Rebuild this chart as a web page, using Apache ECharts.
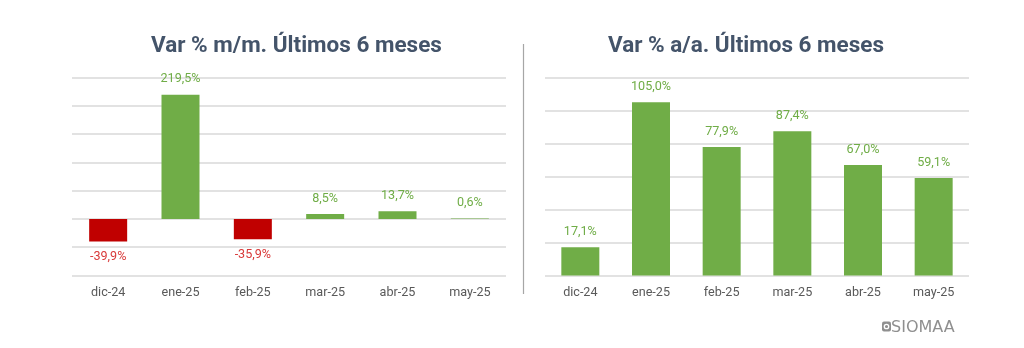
<!DOCTYPE html>
<html>
<head>
<meta charset="utf-8">
<script src="https://cdn.jsdelivr.net/npm/echarts@6/dist/echarts.min.js"></script>
<style>
html,body{margin:0;padding:0;background:#fff;}
#c{width:1024px;height:348px;}
</style>
</head>
<body>
<div id="c"></div>
<script>
const categories = ['dic-24','ene-25','feb-25','mar-25','abr-25','may-25'];
const momValues = [-39.9, 219.5, -35.9, 8.5, 13.7, 0.6];
const yoyValues = [17.1, 105.0, 77.9, 87.4, 67.0, 59.1];
const titleLeft = 'Var % m/m. Últimos 6 meses';
const titleRight = 'Var % a/a. Últimos 6 meses';

const GREEN = '#70AD47';
const RED = '#C00000';
const RED_LABEL = '#D93A3A';
const fmt = v => v.toFixed(1).replace('.', ',') + '%';
const FONT = 'Roboto';

const chart = echarts.init(document.getElementById('c'), null, {renderer: 'canvas'});

function yAxis(gi, min, max, interval) {
  return {
    type: 'value', gridIndex: gi, min: min, max: max, interval: interval,
    axisLabel: {show: false}, axisLine: {show: false}, axisTick: {show: false},
    splitLine: {lineStyle: {color: '#D9D9D9', width: 1.5}}
  };
}
function xAxis(gi) {
  return {
    type: 'category', gridIndex: gi, data: categories,
    axisLine: {show: false}, axisTick: {show: false},
    axisLabel: {color: '#595959', fontSize: 12.6, fontFamily: FONT, margin: 11}
  };
}

chart.setOption({
  animation: false,
  textStyle: {fontFamily: FONT},
  title: [
    {text: titleLeft, left: 146, top: 30, textStyle: {fontSize: 22.5, fontWeight: 'bold', color: '#44546A', fontFamily: FONT}},
    {text: titleRight, left: 603, top: 30, textStyle: {fontSize: 22.5, fontWeight: 'bold', color: '#44546A', fontFamily: FONT}}
  ],
  grid: [
    {left: 72, right: 518, top: 77.5, bottom: 72.5},
    {left: 545, right: 55, top: 77.5, bottom: 72.5}
  ],
  xAxis: [xAxis(0), xAxis(1)],
  yAxis: [yAxis(0, -100, 250, 50), yAxis(1, 0, 120, 20)],
  series: [
    {
      type: 'bar', xAxisIndex: 0, yAxisIndex: 0, barWidth: 38,
      data: momValues.map(v => ({
        value: v,
        itemStyle: {color: v < 0 ? RED : GREEN},
        label: {
          show: true, position: v < 0 ? 'bottom' : 'top', distance: 9,
          formatter: fmt(v), color: v < 0 ? RED_LABEL : GREEN,
          fontSize: 12.6, fontFamily: FONT
        }
      }))
    },
    {
      type: 'bar', xAxisIndex: 1, yAxisIndex: 1, barWidth: 38,
      itemStyle: {color: GREEN},
      label: {
        show: true, position: 'top', distance: 9, color: GREEN,
        fontSize: 12.6, fontFamily: FONT,
        formatter: p => fmt(p.value)
      },
      data: yoyValues
    }
  ],
  graphic: [
    {type: 'line', shape: {x1: 523.5, y1: 44, x2: 523.5, y2: 294}, style: {stroke: '#A6A6A6', lineWidth: 1.2}},
    {type: 'rect', shape: {x: 882, y: 321.5, width: 9, height: 10, r: 2}, style: {fill: '#8F8F8F'}},
    {type: 'circle', shape: {cx: 886.5, cy: 326.5, r: 2.2}, style: {fill: 'none', stroke: '#fff', lineWidth: 1.3}},
    {type: 'text', x: 891, y: 319.5, style: {text: 'SIOMAA', fill: '#8F8F8F', font: '16px "DejaVu Sans", sans-serif'}}
  ]
});
</script>
</body>
</html>
